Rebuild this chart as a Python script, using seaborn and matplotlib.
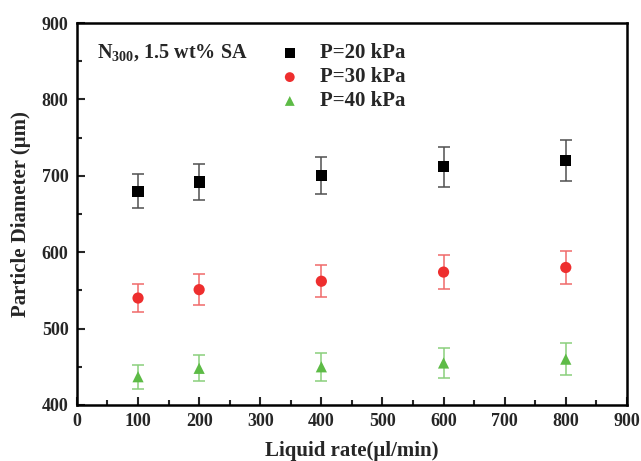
import pandas as pd
import matplotlib.pyplot as plt
import seaborn as sns
from matplotlib.ticker import MultipleLocator

sns.set_theme(style="ticks")
plt.rcParams["font.family"] = ["Liberation Serif", "DejaVu Serif"]
plt.rcParams["font.weight"] = "bold"
plt.rcParams["mathtext.fontset"] = "custom"
plt.rcParams["mathtext.rm"] = "Liberation Serif:bold"
plt.rcParams["mathtext.bf"] = "Liberation Serif:bold"

liquid_rate = [100, 200, 400, 600, 800]
d_20kpa = [680, 692, 700, 712, 720]
err_20kpa = [22, 24, 24, 26, 27]
d_30kpa = [540, 551, 562, 574, 580]
err_30kpa = [18, 20, 21, 22, 22]
d_40kpa = [437, 448, 450, 455, 460]
err_40kpa = [16, 17, 18, 20, 21]

labels = ["P=20 kPa", "P=30 kPa", "P=40 kPa"]
colors = ["#000000", "#EE2E2E", "#5DBB46"]
err_colors = ["#505050", "#F06A6A", "#8ACF7C"]
markers = ["s", "o", "^"]

rows = []
for lab, d, e in zip(labels, [d_20kpa, d_30kpa, d_40kpa], [err_20kpa, err_30kpa, err_40kpa]):
    for x, y, er in zip(liquid_rate, d, e):
        rows.append({"rate": x, "diameter": y, "err": er, "pressure": lab})
df = pd.DataFrame(rows)

fig = plt.figure(figsize=(6.41, 4.61), dpi=100)
ax = fig.add_axes([0.120, 0.1215, 0.858, 0.8285])

for lab, ec in zip(labels, err_colors):
    sub = df[df["pressure"] == lab]
    ax.errorbar(sub["rate"], sub["diameter"], yerr=sub["err"], fmt="none",
                ecolor=ec, elinewidth=1.1, capsize=4, capthick=1.1, zorder=2)

sns.scatterplot(data=df, x="rate", y="diameter", hue="pressure", style="pressure",
                palette=dict(zip(labels, colors)), markers=dict(zip(labels, markers)),
                s=65, edgecolor="none", ax=ax, zorder=3, legend=False)

# legend built by hand so it looks like the original
for i, (lab, c, m) in enumerate(zip(labels, colors, markers)):
    yy = 0.921 - i * 0.0625
    ax.scatter([0.387], [yy], transform=ax.transAxes, marker=m, color=c, s=50,
               edgecolor="none", clip_on=False)
    ax.text(0.442, yy, lab, transform=ax.transAxes, fontsize=15, fontweight="bold",
            va="center", ha="left")

ax.text(0.036, 0.922, r"N$_{300}$, 1.5 wt% SA", transform=ax.transAxes,
        fontsize=14.5, fontweight="bold", va="center", ha="left")

ax.set_xlim(0, 900)
ax.set_ylim(400, 900)
ax.xaxis.set_major_locator(MultipleLocator(100))
ax.xaxis.set_minor_locator(MultipleLocator(50))
ax.yaxis.set_major_locator(MultipleLocator(100))
ax.yaxis.set_minor_locator(MultipleLocator(50))
ax.tick_params(which="major", direction="in", length=6, width=1.5, labelsize=13, pad=6)
ax.tick_params(which="minor", direction="in", length=3.5, width=1.5)
for sp in ax.spines.values():
    sp.set_linewidth(1.8)
    sp.set_color("black")

ax.set_xlabel("Liquid rate(μl/min)", fontsize=15, fontweight="bold", labelpad=8)
ax.set_ylabel("Particle Diameter (μm)", fontsize=15, fontweight="bold", labelpad=8)

fig.savefig("out.png", dpi=100)
